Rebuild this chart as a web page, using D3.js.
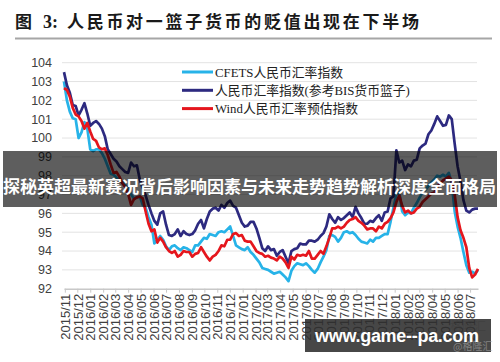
<!DOCTYPE html>
<html lang="zh">
<head>
<meta charset="UTF-8">
<title>人民币对一篮子货币的贬值出现在下半场</title>
<script src="https://cdn.jsdelivr.net/npm/d3@7"></script>
<style>
body { margin: 0; background: #fff; }
svg { display: block; }
.axis text { font-family: "Liberation Sans", Arial, sans-serif; fill: #404040; }
</style>
</head>
<body>
<script>
// month labels on the x axis
var monthLabels = ["2015/11","2015/12","2016/01","2016/02","2016/03","2016/04","2016/05","2016/06",
  "2016/07","2016/08","2016/09","2016/10","2016/11","2016/12","2017/01","2017/02","2017/03",
  "2017/04","2017/05","2017/06","2017/07","2017/08","2017/09","2017/10","2017/11","2017/12",
  "2018/01","2018/02","2018/03","2018/04","2018/05","2018/06","2018/07"];
var yTicks = [92,93,94,95,96,97,98,99,100,101,102,103,104];

// weekly observations, first week ending 2015-10-30
var firstWeek = "2015-10-30";

var cfets = [103.0,102.0,101.4,101.05,101.0,100.0,100.3,100.85,100.5,99.4,
  99.3,99.4,99.4,99.2,98.9,98.5,98.1,98.05,97.9,97.8,
  97.65,97.5,97.3,97.0,96.8,96.85,96.9,96.45,96.3,95.8,
  95.4,94.4,94.6,94.8,94.6,94.25,94.05,94.25,94.3,94.15,
  94.05,94.2,94.15,94.05,93.95,94.3,94.3,94.5,94.7,94.65,
  94.9,94.85,94.8,95.0,95.05,95.0,95.15,95.3,94.8,94.3,
  94.2,94.1,94.05,94.2,93.95,93.8,93.6,93.4,93.1,93.05,
  93.0,92.9,92.8,92.85,92.9,92.75,92.6,92.4,92.95,93.2,
  93.35,93.3,93.25,93.35,93.2,93.0,92.85,93.05,93.4,93.7,
  94.05,94.8,94.85,94.75,94.5,94.7,95.0,95.05,94.95,95.0,
  94.85,94.65,94.5,94.45,94.4,94.6,94.5,94.7,94.7,94.8,
  94.9,94.9,95.55,96.3,97.0,97.15,96.1,95.9,96.05,96.0,
  96.3,96.55,96.85,97.1,97.25,97.45,97.65,97.8,98.0,97.95,
  98.05,97.95,98.15,97.6,96.1,95.3,94.7,93.95,93.25,92.85,
  92.9,92.8,93.0];

var bis = [103.5,102.8,102.4,101.75,101.7,101.2,101.5,101.85,101.3,100.65,
  100.8,100.9,100.75,100.5,100.1,99.4,99.15,98.9,98.75,98.5,
  98.35,98.2,98.15,98.7,98.5,98.55,97.8,97.35,96.95,96.45,
  96.0,95.6,95.4,96.0,96.1,95.4,94.85,94.8,94.9,95.15,
  94.8,95.05,94.9,94.85,94.9,95.1,95.45,95.65,95.2,95.7,
  96.1,96.25,96.3,96.15,96.45,96.3,96.55,96.68,96.4,96.3,
  95.9,95.5,95.3,95.35,95.55,95.55,95.2,94.7,94.15,94.0,
  94.25,94.05,94.1,93.75,93.95,94.05,93.7,93.35,94.0,94.1,
  94.15,94.4,94.35,94.35,94.55,94.55,94.5,94.6,94.8,94.95,
  95.3,95.95,95.7,95.5,95.8,95.65,95.75,95.9,96.05,95.8,
  96.35,96.0,95.75,95.45,95.45,95.6,95.55,95.75,95.9,95.6,
  96.05,96.1,96.8,96.9,99.35,98.7,98.8,98.3,98.6,98.5,
  98.8,98.85,99.45,99.6,99.7,100.2,100.4,100.75,101.15,100.9,
  100.65,100.7,101.2,101.0,99.7,98.5,97.7,96.7,96.15,96.05,
  96.2,96.25,96.25];

var wind = [102.65,102.55,102.2,101.6,101.25,101.15,100.9,100.5,100.8,100.35,
  99.95,99.85,99.5,99.4,99.45,99.1,98.6,98.15,98.2,97.95,
  97.6,97.4,97.05,96.45,96.75,96.85,96.9,96.8,96.1,95.45,
  95.05,95.15,94.45,94.7,94.5,94.2,94.0,93.9,94.0,93.7,
  93.8,94.0,93.95,93.95,93.7,93.85,93.9,94.2,93.95,93.7,
  93.5,93.7,93.8,94.0,94.3,94.25,94.6,94.6,94.9,94.95,
  94.8,94.85,94.55,94.5,94.5,94.25,94.0,93.9,93.85,93.7,
  93.75,93.65,93.6,93.5,93.7,93.6,93.4,93.1,93.7,93.55,
  93.8,93.75,93.8,93.75,94.0,93.6,93.6,93.8,94.0,93.85,
  94.25,94.7,95.2,95.2,95.3,95.2,95.3,95.5,95.65,95.7,
  95.8,95.6,95.5,95.35,95.15,95.2,95.2,95.05,95.3,95.2,
  95.45,95.55,95.75,96.05,96.6,96.95,96.4,96.05,96.15,96.0,
  96.05,96.25,96.35,96.6,96.75,96.9,97.05,97.1,97.4,97.6,
  97.75,97.85,97.95,97.75,97.0,95.8,95.1,94.7,94.2,93.1,
  92.6,92.75,93.05];

var seriesNames = ["CFETS人民币汇率指数", "人民币汇率指数(参考BIS货币篮子)", "Wind人民币汇率预估指数"];
var seriesColors = ["#27b3e8", "#2d2a80", "#e5161d"];

var width = 500, height = 362;
var svg = d3.select("body").append("svg")
  .attr("width", width).attr("height", height);

svg.append("rect").attr("width", width).attr("height", height).attr("fill", "#fff");

// title
svg.append("text").attr("x", 15).attr("y", 28)
  .style("font-family", "'Noto Sans CJK SC', sans-serif")
  .style("font-weight", 700).style("font-size", "17px").attr("fill", "#1a1a1a")
  .text("图");
svg.append("text").attr("x", 43).attr("y", 28)
  .style("font-family", "'Liberation Serif', serif")
  .style("font-weight", 700).style("font-size", "18px").attr("fill", "#1a1a1a")
  .text("3:");
svg.append("text").attr("x", 67).attr("y", 28)
  .style("font-family", "'Noto Sans CJK SC', sans-serif")
  .style("font-weight", 700).style("font-size", "17px")
  .style("letter-spacing", "2.7px").attr("fill", "#1a1a1a")
  .text("人民币对一篮子货币的贬值出现在下半场");
svg.append("line").attr("x1", 15).attr("x2", 492).attr("y1", 38.5).attr("y2", 38.5)
  .attr("stroke", "#a6a6a6").attr("stroke-width", 2);

// scales
var parseDay = d3.timeParse("%Y-%m-%d");
var parseMonth = d3.timeParse("%Y/%m");
var start = parseDay(firstWeek);
var weekDate = function(i) { return d3.timeDay.offset(start, 7 * i); };
var x = d3.scaleTime()
  .domain([start, weekDate(cfets.length - 1)])
  .range([64, 478]);
var y = d3.scaleLinear().domain([92, 104]).range([288.7, 62.7]);

// grid
svg.append("g").selectAll("line")
  .data(yTicks.slice(1))
  .enter().append("line")
  .attr("x1", 62).attr("x2", 477)
  .attr("y1", function(d) { return y(d); })
  .attr("y2", function(d) { return y(d); })
  .attr("stroke", "#e3e3e3").attr("stroke-width", 1);

// y labels
svg.append("g").attr("class", "axis").selectAll("text")
  .data(yTicks)
  .enter().append("text")
  .attr("x", 52)
  .attr("y", function(d) { return y(d); })
  .attr("dy", "0.35em")
  .attr("text-anchor", "end")
  .style("font-size", "12.5px")
  .text(function(d) { return d; });

// x axis
var xAxis = d3.axisBottom(x)
  .tickValues(monthLabels.map(function(m) { return parseMonth(m); }))
  .tickFormat(d3.timeFormat("%Y/%m"))
  .tickSize(4)
  .tickSizeOuter(0);
var gx = svg.append("g").attr("class", "axis")
  .attr("transform", "translate(0," + y(92) + ")")
  .call(xAxis);
gx.select(".domain").attr("stroke", "#c8c8c8").attr("stroke-width", 1.5);
gx.selectAll(".tick line").attr("stroke", "#c8c8c8");
gx.selectAll(".tick text")
  .attr("transform", "rotate(-90)")
  .attr("text-anchor", "end")
  .attr("x", -5).attr("y", 0).attr("dy", "0.36em")
  .style("font-size", "13px");

// lines
var line = d3.line()
  .x(function(d, i) { return x(weekDate(i)); })
  .y(function(d) { return y(d); });

[cfets, bis, wind].forEach(function(s, k) {
  svg.append("path")
    .datum(s)
    .attr("d", line)
    .attr("fill", "none")
    .attr("stroke", seriesColors[k])
    .attr("stroke-width", 2.7)
    .attr("stroke-linejoin", "round");
});

// legend
var legend = svg.append("g").selectAll("g")
  .data(seriesNames)
  .enter().append("g")
  .attr("transform", function(d, i) { return "translate(182," + (72 + i * 18.3) + ")"; });
legend.append("line")
  .attr("x1", 0).attr("x2", 31)
  .attr("stroke", function(d, i) { return seriesColors[i]; })
  .attr("stroke-width", 3);
legend.append("text")
  .attr("x", 33).attr("dy", "0.36em")
  .style("font-family", "'Liberation Serif', 'Noto Sans CJK SC', serif")
  .style("font-size", "12.8px").attr("fill", "#222")
  .text(function(d) { return d; });

// overlay banner
svg.append("rect").attr("x", 3).attr("y", 151).attr("width", 494).attr("height", 56)
  .attr("fill", "#000").attr("opacity", 0.63);
svg.append("text").attr("x", 3).attr("y", 186)
  .attr("dominant-baseline", "central")
  .attr("textLength", 493).attr("lengthAdjust", "spacingAndGlyphs")
  .style("font-family", "'Noto Sans CJK SC', sans-serif")
  .style("font-weight", 700).style("font-size", "16.8px").attr("fill", "#fff")
  .text("探秘英超最新赛况背后影响因素与未来走势趋势解析深度全面格局");

// bottom-right box
svg.append("text").attr("x", 450).attr("y", 331)
  .style("font-family", "'Noto Sans CJK SC', sans-serif")
  .style("font-size", "12px").attr("fill", "#999").attr("opacity", 0.5)
  .text("格隆汇");
svg.append("rect").attr("x", 305).attr("y", 319).attr("width", 186).attr("height", 33)
  .attr("fill", "#2e2e2e").attr("opacity", 0.88);
svg.append("text").attr("x", 453).attr("y", 350)
  .style("font-family", "'Noto Sans CJK SC', sans-serif")
  .style("font-size", "10px").attr("fill", "#aaa").attr("opacity", 0.6)
  .text("@格隆汇");
svg.append("text").attr("x", 315).attr("y", 342)
  .style("font-family", "'Liberation Sans', Arial, sans-serif")
  .style("font-weight", 700).style("font-size", "18px").attr("fill", "#fff")
  .attr("textLength", 164)
  .text("www.game--pa.com");
</script>
</body>
</html>
